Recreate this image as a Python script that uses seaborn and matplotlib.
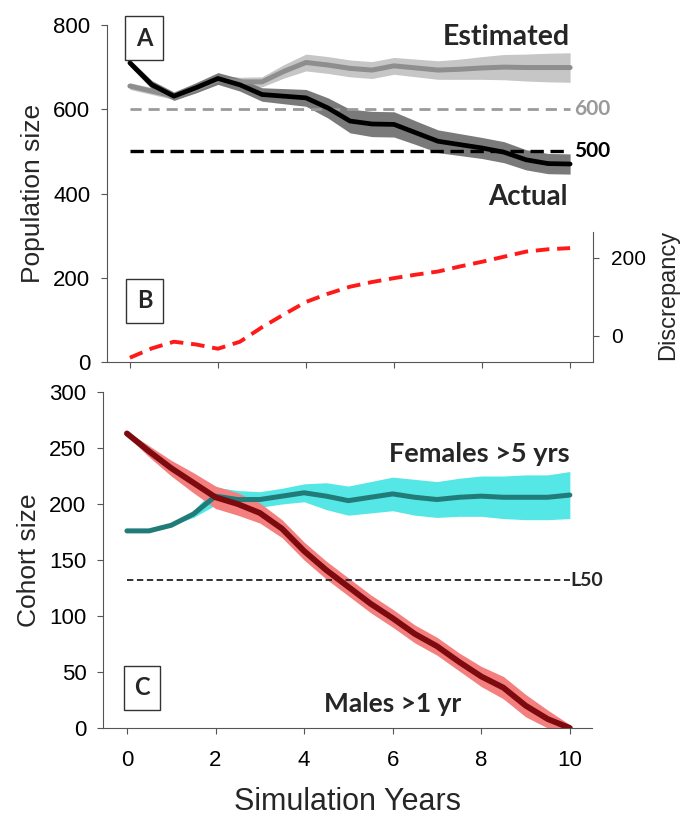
import numpy as np
import pandas as pd
import seaborn as sns
import matplotlib.pyplot as plt

# ---- data ----
years = [0, 0.5, 1, 1.5, 2, 2.5, 3, 3.5, 4, 4.5, 5, 5.5, 6, 6.5, 7, 7.5, 8, 8.5, 9, 9.5, 10]

actual = [710, 658, 631, 651, 673, 658, 635, 631, 627, 603, 572, 565, 564, 544, 524, 516, 508, 498, 480, 471, 470]
actual_hw = [8, 10, 10, 12, 14, 15, 16, 18, 20, 24, 28, 30, 30, 28, 27, 26, 25, 25, 24, 24, 24]
estimated = [655, 643, 631, 648, 670, 665, 665, 690, 711, 705, 697, 693, 703, 698, 693, 695, 698, 700, 699, 699, 699]
estimated_hw = [8, 8, 8, 9, 10, 11, 12, 16, 20, 20, 20, 20, 20, 21, 22, 24, 27, 30, 32, 34, 35]
discrepancy = [-56, -32, -15, -22, -33, -15, 22, 55, 87, 108, 126, 138, 148, 157, 165, 178, 190, 203, 216, 222, 225]

males = [263, 247, 232, 219, 206, 200, 192, 178, 158, 141, 126, 111, 98, 84, 73, 59, 46, 36, 20, 8, 0]
males_hw = [2, 5, 7, 9, 10, 10, 9, 8, 8, 8, 8, 8, 8, 8, 8, 8, 9, 10, 10, 8, 3]
females = [176, 176, 181, 191, 207, 204, 204, 207, 210, 207, 203, 206, 209, 206, 204, 206, 207, 206, 206, 206, 208]
females_hw = [0, 0, 0, 3, 8, 8, 7, 7, 8, 12, 13, 14, 15, 16, 16, 17, 18, 19, 20, 20, 21]

ref_600 = 600
ref_500 = 500
l50 = 132

df = pd.DataFrame({'year': years, 'actual': actual, 'actual_hw': actual_hw,
                   'estimated': estimated, 'estimated_hw': estimated_hw,
                   'discrepancy': discrepancy, 'males': males, 'males_hw': males_hw,
                   'females': females, 'females_hw': females_hw})

sns.set_style('ticks')
plt.rcParams['font.family'] = ['Liberation Sans', 'DejaVu Sans']
plt.rcParams['axes.edgecolor'] = '#555555'
plt.rcParams['xtick.color'] = '#555555'
plt.rcParams['ytick.color'] = '#555555'
plt.rcParams['xtick.labelcolor'] = 'black'
plt.rcParams['ytick.labelcolor'] = 'black'
plt.rcParams['lines.solid_joinstyle'] = 'round'
plt.rcParams['lines.solid_capstyle'] = 'round'

bold = dict(family=['Lato', 'DejaVu Sans'], fontweight='bold')
boxstyle = dict(boxstyle='square,pad=0.45', fc='white', ec='#333333', lw=1)

fig = plt.figure(figsize=(6.81, 8.18), dpi=100)
ax = fig.add_axes([107 / 681, 1 - 362 / 818, 486 / 681, 337 / 818])
axc = fig.add_axes([103 / 681, 1 - 728 / 818, 489 / 681, 336 / 818])

# ---- panel A ----
yr = df['year']
ax.fill_between(yr, df['estimated'] - df['estimated_hw'], df['estimated'] + df['estimated_hw'],
                color='#c6c6c6', lw=0, zorder=1)
ax.fill_between(yr, df['actual'] - df['actual_hw'], df['actual'] + df['actual_hw'],
                color='#7a7a7a', lw=0, zorder=2)
ax.hlines(ref_600, years[0], years[-1], colors='#9a9a9a', linestyles=(0, (4, 2.5)), lw=2, zorder=3)
ax.hlines(ref_500, years[0], years[-1], colors='black', linestyles=(0, (4, 2)), lw=2.4, zorder=3)
sns.lineplot(data=df, x='year', y='estimated', ax=ax, color='#8e8e8e', lw=3.6, zorder=4)
sns.lineplot(data=df, x='year', y='actual', ax=ax, color='black', lw=3.4, zorder=5)

ax.set_xlim(-0.52, 10.52)
ax.set_ylim(0, 800)
ax.set_yticks([0, 200, 400, 600, 800])
ax.set_xticks([0, 2, 4, 6, 8, 10])
ax.set_xticklabels([])
ax.set_xlabel('')
ax.set_ylabel('Population size', fontsize=19, labelpad=6)
ax.tick_params(axis='y', labelsize=16, length=4, pad=8)
ax.tick_params(axis='x', length=4)
for s in ['top', 'right']:
    ax.spines[s].set_visible(False)

ax.text(10, 771, 'Estimated', ha='right', va='center', fontsize=20.5, **bold)
ax.text(9.95, 392, 'Actual', ha='right', va='center', fontsize=20, **bold)
ax.text(10.1, ref_600, '600', ha='left', va='center', fontsize=15, color='#9a9a9a', **bold)
ax.text(10.1, ref_500, '500', ha='left', va='center', fontsize=15, color='black', **bold)
ax.text(0.32, 769, 'A', ha='center', va='center', fontsize=17, bbox=boxstyle, zorder=6, **bold)
ax.text(0.34, 145, 'B', ha='center', va='center', fontsize=17, bbox=boxstyle, zorder=6, **bold)

# ---- panel B (discrepancy, right axis) ----
ax2 = ax.twinx()
sns.lineplot(data=df, x='year', y='discrepancy', ax=ax2, color='#ff1a1a',
             lw=2.8, linestyle=(0, (3.5, 2)))
ax2.set_ylim(-67, 797)
ax2.set_yticks([0, 200])
ax2.set_ylabel('')
ax2.tick_params(axis='y', labelsize=15, length=4, pad=9)
for s in ['top', 'left', 'bottom']:
    ax2.spines[s].set_visible(False)
ax2.spines['right'].set_bounds(-67, 267)
fig.text(668 / 681, 1 - 295 / 818, 'Discrepancy', rotation=90, ha='center', va='center', fontsize=17)

# ---- panel C ----
axc.fill_between(yr, df['females'] - df['females_hw'], df['females'] + df['females_hw'],
                 color='#55e6e6', lw=0, zorder=1)
axc.fill_between(yr, df['males'] - df['males_hw'], df['males'] + df['males_hw'],
                 color='#f47f7f', lw=0, zorder=2)
axc.hlines(l50, years[0], years[-1], colors='#222222', linestyles=(0, (3.5, 2)), lw=1.3, zorder=3)
sns.lineplot(data=df, x='year', y='females', ax=axc, color='#217c79', lw=3.6, zorder=4)
sns.lineplot(data=df, x='year', y='males', ax=axc, color='#7d0a0e', lw=4.2, zorder=5)

axc.set_xlim(-0.54, 10.5)
axc.set_ylim(0, 300)
axc.set_yticks(range(0, 301, 50))
axc.set_xticks([0, 2, 4, 6, 8, 10])
axc.set_ylabel('Cohort size', fontsize=19, labelpad=6)
axc.set_xlabel('Simulation Years', fontsize=22)
axc.xaxis.set_label_coords(0.5, -0.175)
axc.tick_params(axis='y', labelsize=16, length=4, pad=8)
axc.tick_params(axis='x', labelsize=16, length=4, pad=12)
for s in ['top', 'right']:
    axc.spines[s].set_visible(False)

axc.text(10, 245, 'Females >5 yrs', ha='right', va='center', fontsize=19.5, **bold)
axc.text(6.0, 21, 'Males >1 yr', ha='center', va='center', fontsize=19, **bold)
axc.text(10.02, l50, 'L50', ha='left', va='center', fontsize=14, **bold)
axc.text(0.34, 36, 'C', ha='center', va='center', fontsize=17, bbox=boxstyle, zorder=6, **bold)

fig.savefig('out.png', dpi=100)
